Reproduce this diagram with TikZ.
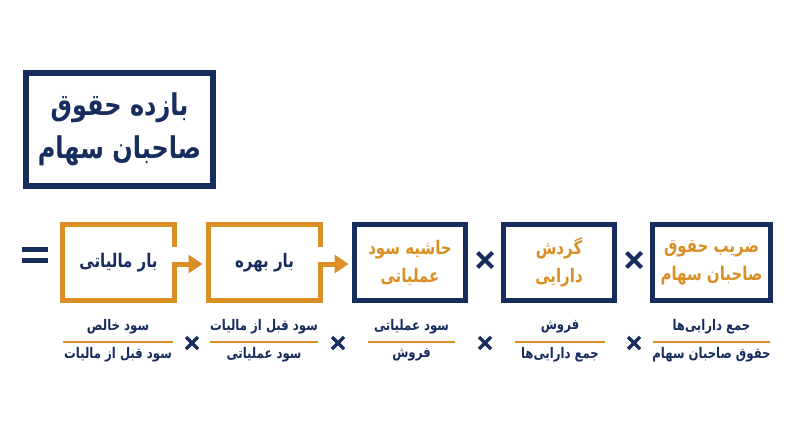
\documentclass[tikz,border=0pt]{standalone}
\usepackage{fontspec}
\usepackage{graphicx}
\usetikzlibrary{arrows.meta}
\TeXXeTstate=1
\newfontfamily\fa[Script=Arabic]{DejaVu Sans}
\definecolor{navy}{RGB}{22,45,94}
\definecolor{gold}{RGB}{218,143,36}
\newcommand{\rl}[1]{\scalebox{1}[1.25]{\beginR #1\endR}}
\tikzset{
  x=1pt, y=-1pt,
  box/.style={rectangle, minimum height=76pt, inner sep=0pt, outer sep=0pt, line width=5pt, align=center, font=\fa\bfseries\fontsize{15}{28}\selectfont},
  goldbox/.style={box, text=navy},
  navybox/.style={box, draw=navy, text=gold},
  flow/.style={draw=gold, line width=5pt, line join=miter},
  fr/.style={inner sep=0pt, text=navy, font=\fa\bfseries\fontsize{11.7}{15}\selectfont},
  barline/.style={draw=gold, line width=2pt},
  times/.style={draw=navy, line width=4pt},
  smalltimes/.style={draw=navy, line width=3.3pt},
}
\begin{document}
\begin{tikzpicture}
\useasboundingbox (0,0) rectangle (800,447);
% title
\node[draw=navy, line width=6pt, minimum width=187pt, minimum height=113pt, inner sep=0pt, outer sep=0pt, align=center, text=navy, font=\fa\bfseries\fontsize{24}{43}\selectfont] (title) at (119.5,129.5) {\rl{بازده حقوق}\\\rl{صاحبان سهام}};
% equals
\fill[navy] (22,247) rectangle (48,252);
\fill[navy] (22,258) rectangle (48,263);
% boxes
\node[goldbox, minimum width=112pt] (b1) at (118.5,262.5) {\rl{بار مالیاتی}};
\node[goldbox, minimum width=112pt] (b2) at (264.5,262.5) {\rl{بار بهره}};
\node[navybox, minimum width=111pt] (b3) at (410,262.5) {\rl{حاشیه سود}\\\rl{عملیاتی}};
\node[navybox, minimum width=111pt] (b4) at (559,262.5) {\rl{گردش}\\\rl{دارایی}};
\node[navybox, minimum width=118pt] (b5) at (711.5,262.5) {\rl{ضریب حقوق}\\\rl{صاحبان سهام}};
% gold frames with arrows
\draw[flow, -{Triangle[length=14pt,width=18pt]}, shorten >=6pt]
  ([yshift=-22.5pt]b1.north east) -- (b1.north east) -- (b1.north west) -- (b1.south west) -- (b1.south east) -- ([yshift=-1.5pt]b1.east) -- ([yshift=-1.5pt]b2.west);
\draw[flow, -{Triangle[length=14pt,width=18pt]}, shorten >=6pt]
  ([yshift=-22.5pt]b2.north east) -- (b2.north east) -- (b2.north west) -- (b2.south west) -- (b2.south east) -- ([yshift=-1.5pt]b2.east) -- ([yshift=-1.5pt]b3.west);
% times between boxes
\foreach \cx in {485,634} {
  \draw[times] (\cx-7.5,252.5) -- (\cx+7.5,267.5);
  \draw[times] (\cx-7.5,267.5) -- (\cx+7.5,252.5);
}
% fractions
\node[fr] (n1) at (118,327) {\rl{سود خالص}};
\node[fr] (d1) at (118,355) {\rl{سود قبل از مالیات}};
\node[fr] (n2) at (264,327) {\rl{سود قبل از مالیات}};
\node[fr] (d2) at (264,355) {\rl{سود عملیاتی}};
\node[fr] (n3) at (411.5,327) {\rl{سود عملیاتی}};
\node[fr] (d3) at (411.5,355) {\rl{فروش}};
\node[fr] (n4) at (560,327) {\rl{فروش}};
\node[fr] (d4) at (560,355) {\rl{جمع دارایی‌ها}};
\node[fr] (n5) at (711.5,327) {\rl{جمع دارایی‌ها}};
\node[fr] (d5) at (711.5,355) {\rl{حقوق صاحبان سهام}};
\draw[barline] (63,342) -- (173,342);
\draw[barline] (210,342) -- (318,342);
\draw[barline] (368,342) -- (455,342);
\draw[barline] (515,342) -- (605,342);
\draw[barline] (653,342) -- (770,342);
\foreach \cx in {192,338,485,634} {
  \draw[smalltimes] (\cx-6,337) -- (\cx+6,349);
  \draw[smalltimes] (\cx-6,349) -- (\cx+6,337);
}
\end{tikzpicture}
\end{document}
